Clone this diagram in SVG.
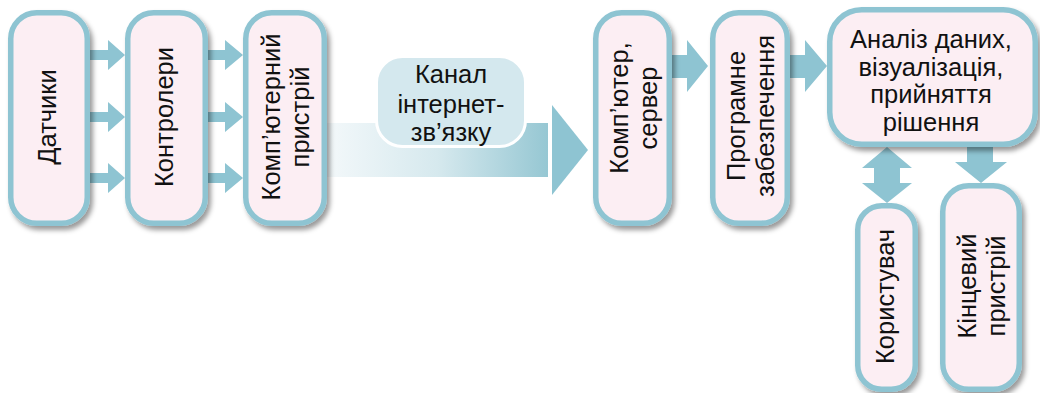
<svg xmlns="http://www.w3.org/2000/svg" width="1040" height="393" viewBox="0 0 1040 393">
<defs>
<style>
.box{fill:#FCEEF3;stroke:#8EC4D2;stroke-width:5.5;filter:url(#sh)}
.arr{fill:#8EC4D2}
text{font-family:"Liberation Sans",Arial,sans-serif;font-size:25.5px;fill:#111}
.c{text-anchor:middle}
</style>
<filter id="sh" x="-20%" y="-20%" width="140%" height="140%">
<feDropShadow dx="3" dy="4" stdDeviation="2.5" flood-color="#000" flood-opacity="0.4"/>
</filter>
<linearGradient id="g" x1="0" y1="0" x2="1" y2="0">
<stop offset="0" stop-color="#F3F8FA"/>
<stop offset="0.5" stop-color="#D6E9EE"/>
<stop offset="1" stop-color="#96C7D3"/>
</linearGradient>
</defs>
<g id="connectors">
<polygon class="arr" points="88,50 108,50 108,40 125,55 108,70 108,60 88,60"/>
<polygon class="arr" points="88,112 108,112 108,102 125,117 108,132 108,122 88,122"/>
<polygon class="arr" points="88,173 108,173 108,163 125,178 108,193 108,183 88,183"/>
<polygon class="arr" points="206,50 225,50 225,40 243,55 225,70 225,60 206,60"/>
<polygon class="arr" points="206,112 225,112 225,102 243,117 225,132 225,122 206,122"/>
<polygon class="arr" points="206,173 225,173 225,163 243,178 225,193 225,183 206,183"/>
<rect x="327" y="123" width="221" height="54" fill="url(#g)"/>
<polygon class="arr" points="552,105 588,150 552,195"/>
<polygon class="arr" points="670,55 687,55 687,40 708,66 687,92 687,78 670,78"/>
<polygon class="arr" points="788,55 805,55 805,40 827,66 805,92 805,78 788,78"/>
<polygon class="arr" points="887,147 912,168 900,168 900,183 912,183 887,203 862,183 874,183 874,168 862,168"/>
<polygon class="arr" points="967,145 993,145 993,162 1007,162 981,183 955,162 967,162"/>
</g>
<g id="n1"><rect class="box" x="10.75" y="12.75" width="76.5" height="210.5" rx="26"/>
<text class="c" transform="translate(49,117) rotate(-90)" y="7">Датчики</text></g>
<g id="n2"><rect class="box" x="127.75" y="12.75" width="77.5" height="210.5" rx="26"/>
<text class="c" transform="translate(166,117) rotate(-90)" y="7">Контролери</text></g>
<g id="n3"><rect class="box" x="245.75" y="12.75" width="78.5" height="210.5" rx="26"/>
<text class="c" transform="translate(285,117) rotate(-90)"><tspan x="0" y="-5">Комп’ютерний</tspan><tspan x="0" y="24">пристрій</tspan></text></g>
<g id="channel"><rect x="376.5" y="56.5" width="149" height="90" rx="26" fill="#D4E8EE" stroke="#fff" stroke-width="3"/>
<text class="c"><tspan x="451" y="83">Канал</tspan><tspan x="451" y="113">інтернет-</tspan><tspan x="451" y="141">зв’язку</tspan></text></g>
<g id="n4"><rect class="box" x="595.75" y="12.75" width="73.5" height="210.5" rx="26"/>
<text class="c" transform="translate(632.5,108) rotate(-90)"><tspan x="0" y="-5">Комп’ютер,</tspan><tspan x="0" y="24">сервер</tspan></text></g>
<g id="n5"><rect class="box" x="712.75" y="12.75" width="74.5" height="210.5" rx="26"/>
<text class="c" transform="translate(750,116) rotate(-90)"><tspan x="0" y="-5">Програмне</tspan><tspan x="0" y="24">забезпечення</tspan></text></g>
<g id="n6"><rect class="box" x="829.75" y="9.75" width="205.5" height="134.5" rx="32"/>
<text class="c"><tspan x="931" y="48">Аналіз даних,</tspan><tspan x="931" y="75.5">візуалізація,</tspan><tspan x="931" y="103">прийняття</tspan><tspan x="931" y="130.5">рішення</tspan></text></g>
<g id="n7"><rect class="box" x="857.75" y="205.75" width="57.5" height="183.5" rx="24"/>
<text class="c" transform="translate(886,296.5) rotate(-90)" y="8">Користувач</text></g>
<g id="n8"><rect class="box" x="942.75" y="185.75" width="76.5" height="203.5" rx="26"/>
<text class="c" transform="translate(981,286) rotate(-90)"><tspan x="0" y="-5">Кінцевий</tspan><tspan x="0" y="24">пристрій</tspan></text></g>
</svg>
